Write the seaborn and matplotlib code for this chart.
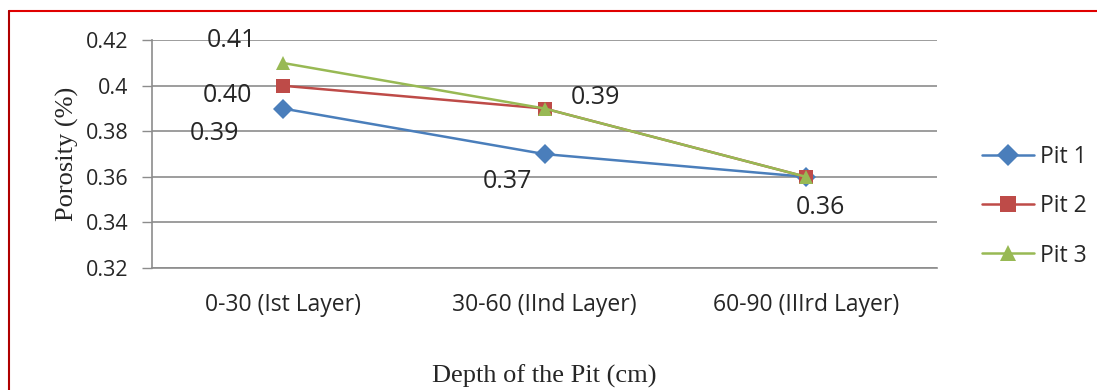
import matplotlib
matplotlib.use("Agg")
import matplotlib.pyplot as plt
import seaborn as sns
import pandas as pd
from matplotlib.lines import Line2D

categories = ["0-30 (Ist Layer)", "30-60 (IInd Layer)", "60-90 (IIIrd Layer)"]
pit1 = [0.39, 0.37, 0.36]
pit2 = [0.40, 0.39, 0.36]
pit3 = [0.41, 0.39, 0.36]
series_names = ["Pit 1", "Pit 2", "Pit 3"]
yticks = [0.32, 0.34, 0.36, 0.38, 0.40, 0.42]
ytick_labels = ["0.32", "0.34", "0.36", "0.38", "0.4", "0.42"]

# visible data labels: (series index, category index, text)
labels = [(2, 0, "0.41"), (1, 0, "0.40"), (0, 0, "0.39"),
          (0, 1, "0.37"), (1, 1, "0.39"), (0, 2, "0.36")]
label_offsets = {(2, 0): (-37, 16), (1, 0): (-40, -7), (0, 0): (-49, -18),
                 (0, 1): (-27, -20), (1, 1): (37, 8), (0, 2): (10, -22)}

sns.set_theme(style="white")
plt.rcParams['font.family'] = ['Open Sans', 'DejaVu Sans']

df = pd.DataFrame({
    "Depth": categories * 3,
    "Porosity": pit1 + pit2 + pit3,
    "Pit": [n for n in series_names for _ in categories],
})

colors = ["#4A7EBB", "#BE4B48", "#98B954"]
fig = plt.figure(figsize=(10.97, 3.9), dpi=100)
ax = fig.add_axes([0.1386, 0.3128, 0.7156, 0.5842])

for y in yticks:
    ax.axhline(y, color="#8C8C8C", lw=1.2, zorder=0)

sns.lineplot(data=df, x="Depth", y="Porosity", hue="Pit", style="Pit",
             palette=colors, markers=["D", "s", "^"], dashes=False,
             markersize=10, linewidth=1.8, markeredgewidth=0, ax=ax, sort=False)

ax.set_xlim(-0.5, 2.5)
ax.set_ylim(0.32, 0.42)
ax.set_yticks(yticks)
ax.set_yticklabels(ytick_labels, fontsize=15.5)
ax.tick_params(axis="y", which="major", length=7, width=1, color="#8C8C8C",
               left=True, pad=10)
ax.tick_params(axis="x", length=0, pad=18, labelsize=16.5)
for s in ["top", "right"]:
    ax.spines[s].set_visible(False)
ax.spines["left"].set_color("#8C8C8C")
ax.spines["bottom"].set_color("#8C8C8C")
ax.spines["left"].set_linewidth(1.2)
ax.spines["bottom"].set_linewidth(1.2)

ax.set_ylabel("Porosity (%)", family="Liberation Serif", fontsize=19, labelpad=5)
ax.set_xlabel("Depth of the Pit (cm)", family="Liberation Serif", fontsize=19, labelpad=34)

series_vals = [pit1, pit2, pit3]
for si, ci, txt in labels:
    ax.annotate(txt, (ci, series_vals[si][ci]), xytext=label_offsets[(si, ci)],
                textcoords="offset points", ha="center", va="center", fontsize=18)

leg = ax.legend(loc="center left", bbox_to_anchor=(0.876, 0.471),
                bbox_transform=fig.transFigure, frameon=False,
                fontsize=16.5, handlelength=2.3, labelspacing=1.1, handletextpad=0.25,
                markerscale=1.1)

# red frame (top and left visible)
fig.add_artist(Line2D([9/1097, 1.0], [1 - 11/390, 1 - 11/390], color="#E00000", lw=1.5,
                      transform=fig.transFigure))
fig.add_artist(Line2D([9/1097, 9/1097], [0.0, 1 - 11/390], color="#B00000", lw=1.5,
                      transform=fig.transFigure))

fig.savefig("out.png", dpi=100)
